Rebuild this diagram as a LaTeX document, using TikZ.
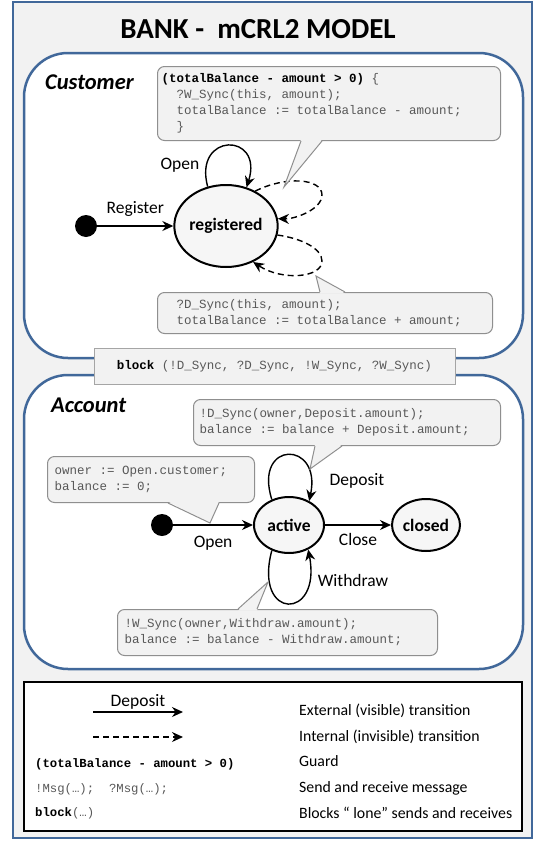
\documentclass[tikz,border=0pt]{standalone}
\usepackage{fontspec}
\setmainfont{Carlito}
\newfontfamily\codefont{Liberation Mono}
\usetikzlibrary{arrows.meta,calc,shapes.geometric}
\definecolor{framefill}{HTML}{F2F2F2}
\definecolor{frameblue}{HTML}{41689A}
\definecolor{balloonfill}{HTML}{F2F2F2}
\definecolor{balloonline}{HTML}{8F8F8F}
\definecolor{codegrey}{HTML}{585858}
\definecolor{statefill}{HTML}{F6F6F6}
\tikzset{
  outerframe/.style={draw=frameblue, fill=framefill, line width=2.5pt},
  panel/.style={draw=frameblue, fill=white, line width=2.5pt, rounded corners=44pt},
  balloon/.style={draw=balloonline, fill=balloonfill, line width=1pt, rounded corners=7pt,
    anchor=north west, align=flush left, inner ysep=0pt, text=codegrey,
    font=\codefont\fontsize{12.5}{16}\selectfont},
  balloontail/.style={draw=balloonline, line width=1pt},
  blockbox/.style={draw=balloonline!80, fill=balloonfill, line width=1pt, inner sep=0pt,
    text=codegrey, font=\codefont\fontsize{12.5}{16}\selectfont},
  state/.style={ellipse, draw=black, line width=2pt, fill=statefill, inner sep=0pt,
    font=\bfseries\fontsize{17.5}{20}\selectfont},
  initial/.style={circle, fill=black, minimum size=22pt, inner sep=0pt},
  trans/.style={-{Stealth[length=11pt,width=10pt]}, line width=1.4pt},
  internal/.style={trans, dash pattern=on 6pt off 4pt},
  lbl/.style={font=\fontsize{17.5}{20}\selectfont, inner sep=0pt},
  heading/.style={font=\bfseries\itshape\fontsize{22.5}{26}\selectfont, anchor=west, inner sep=0pt},
  legendtext/.style={font=\fontsize{15.8}{18}\selectfont, anchor=west, inner sep=0pt},
  legendcode/.style={font=\codefont\fontsize{12.3}{15}\selectfont, anchor=west, inner sep=0pt},
}
\begin{document}
\begin{tikzpicture}[x=1pt,y=-1pt]
\useasboundingbox (0,0) rectangle (537,841);

% outer frame and title
\draw[outerframe] (13,2) rectangle (532,838);
\node[font=\bfseries\fontsize{29}{33}\selectfont, inner sep=0pt] (title) at (258,29) {BANK -~ mCRL2 MODEL};

% ---------- Customer process ----------
\draw[panel] (24,53) rectangle (523,358);
\node[heading] (custhead) at (45,82) {Customer};

\node[state, minimum width=92pt, minimum height=82pt] (reg) at (226,226) {registered};
\node[initial] (ini1) at (86,226) {};
\draw[trans] (ini1) -- node[lbl, above=9pt] (reglbl) {Register} (reg);

% self loop "Open"
\draw[trans] (reg.115) .. controls (193,132) and (264,132) .. (reg.62);
\node[lbl] (openlbl1) at (180,165) {Open};

% internal loops
\draw[internal] (reg.50) .. controls (285,176) and (322,178) .. (322,195)
  .. controls (322,209) and (296,219) .. (reg.8);
\draw[internal] (reg.-10) .. controls (300,238) and (322,248) .. (322,261)
  .. controls (322,278) and (282,281) .. (reg.-53);

% guard balloon
\node[balloon, minimum width=343pt, minimum height=74pt, text width=335pt, inner xsep=4pt]
  (guard) at (157,66)
  {\textcolor{black}{\bfseries(totalBalance - amount > 0)} \{\\
   \hspace*{15pt}?W\_Sync(this, amount);\\
   \hspace*{15pt}totalBalance := totalBalance - amount;\\
   \hspace*{15pt}\}};
\coordinate (gtip) at (284,187);
\fill[balloonfill] ($(guard.south west)+(144,-1.5)$) -- (gtip) -- ($(guard.south west)+(165,-1.5)$) -- cycle;
\draw[balloontail] ($(guard.south west)+(144,0)$) -- (gtip) -- ($(guard.south west)+(165,0)$);

% deposit balloon (customer)
\node[balloon, minimum width=335pt, minimum height=41pt, text width=297pt, inner xsep=19pt]
  (cdep) at (157,292)
  {?D\_Sync(this, amount);\\
   totalBalance := totalBalance + amount;};
\coordinate (ctip) at (316,276);
\fill[balloonfill] ($(cdep.north west)+(163,1.5)$) -- (ctip) -- ($(cdep.north west)+(188,1.5)$) -- cycle;
\draw[balloontail] ($(cdep.north west)+(163,0)$) -- (ctip) -- ($(cdep.north west)+(188,0)$);

% ---------- Account process ----------
\draw[panel] (24,375) rectangle (523,669);
\node[heading] (acchead) at (51,405) {Account};

\node[state, minimum width=70pt, minimum height=56pt] (act) at (289,525) {active};
\node[state, minimum width=68pt, minimum height=52pt] (cls) at (426,525) {closed};
\node[initial] (ini2) at (162,525) {};
\draw[trans] (ini2) -- node[lbl, below=10pt] (openlbl2) {Open} (act);
\draw[trans] (act) -- node[lbl, below=8pt] (closelbl) {Close} (cls);

\draw[trans] (act.124) .. controls (253,440) and (322,440) .. (act.50);
\node[lbl] (deplbl) at (357,481) {Deposit};
\draw[trans] (act.236) .. controls (253,621) and (322,621) .. (act.-52);
\node[lbl] (wdlbl) at (353,580) {Withdraw};

% balloons of the account
\node[balloon, minimum width=307pt, minimum height=46pt, text width=295pt, inner xsep=6pt]
  (adep) at (193,399)
  {!D\_Sync(owner,Deposit.amount);\\
   balance := balance + Deposit.amount;};
\coordinate (atip) at (310,469);
\fill[balloonfill] ($(adep.south west)+(122,-1.5)$) -- (atip) -- ($(adep.south west)+(149,-1.5)$) -- cycle;
\draw[balloontail] ($(adep.south west)+(122,0)$) -- (atip) -- ($(adep.south west)+(149,0)$);

\node[balloon, minimum width=207pt, minimum height=46pt, text width=193pt, inner xsep=7pt]
  (aopen) at (47,456)
  {owner := Open.customer;\\
   balance := 0;};
\coordinate (otip) at (210,523);
\fill[balloonfill] ($(aopen.south west)+(121,-1.5)$) -- (otip) -- ($(aopen.south west)+(172,-1.5)$) -- cycle;
\draw[balloontail] ($(aopen.south west)+(121,0)$) -- (otip) -- ($(aopen.south west)+(172,0)$);

\node[balloon, minimum width=320pt, minimum height=46pt, text width=306pt, inner xsep=7pt]
  (awd) at (117,609)
  {!W\_Sync(owner,Withdraw.amount);\\
   balance := balance - Withdraw.amount;};
\coordinate (wtip) at (268,582);
\fill[balloonfill] ($(awd.north west)+(121,1.5)$) -- (wtip) -- ($(awd.north west)+(140,1.5)$) -- cycle;
\draw[balloontail] ($(awd.north west)+(121,0)$) -- (wtip) -- ($(awd.north west)+(140,0)$);

% block operator
\node[blockbox, minimum width=361pt, minimum height=36pt] (blk) at (274.5,366)
  {\textcolor{black}{\bfseries block} (!D\_Sync, ?D\_Sync, !W\_Sync, ?W\_Sync)};

% ---------- Legend ----------
\draw[black, line width=2pt, fill=white] (24,682) rectangle (522,831);
\coordinate (lx1) at (93,712);
\coordinate (lx2) at (183,712);
\draw[trans] (lx1) -- node[lbl, above=2pt] (leglbl) {Deposit} (lx2);
\coordinate (li1) at (93,737);
\coordinate (li2) at (183,737);
\draw[internal] (li1) -- (li2);
\node[legendcode] (lguard) at (35,764) {\bfseries(totalBalance - amount > 0)};
\node[legendcode, text=codegrey] (lmsg) at (35,789) {!Msg(…);~~?Msg(…);};
\node[legendcode] (lblock) at (35,813) {\bfseries block\textcolor{codegrey}{\mdseries(…)}};
\node[legendtext] (t1) at (299,711) {External (visible) transition};
\node[legendtext] (t2) at (299,737) {Internal (invisible) transition};
\node[legendtext] (t3) at (299,761) {Guard};
\node[legendtext] (t4) at (299,788) {Send and receive message};
\node[legendtext] (t5) at (299,813) {Blocks “ lone” sends and receives};
\end{tikzpicture}
\end{document}
